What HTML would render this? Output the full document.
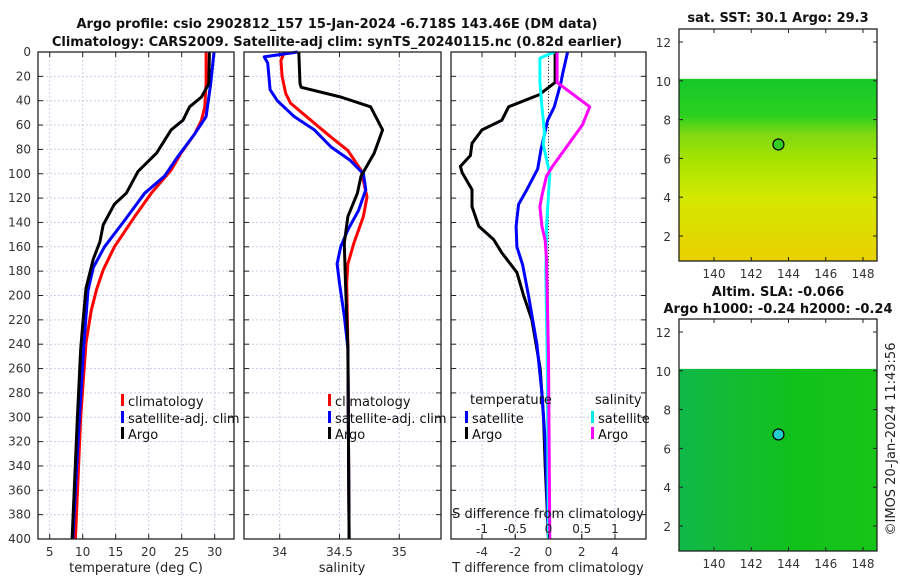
<!DOCTYPE html>
<html><head><meta charset="utf-8"><style>
html,body{margin:0;padding:0;background:#fff}
svg{display:block;font-family:"DejaVu Sans","Liberation Sans",sans-serif}
</style></head><body>
<svg id="c" width="900" height="580" viewBox="0 0 900 580" xmlns="http://www.w3.org/2000/svg">
<defs>
<linearGradient id="sstg" x1="0" y1="0" x2="0" y2="1">
<stop offset="0" stop-color="#14c82a"/><stop offset="0.2" stop-color="#2ad020"/><stop offset="0.3" stop-color="#7ed812"/>
<stop offset="0.45" stop-color="#a8e400"/><stop offset="0.65" stop-color="#d2e800"/><stop offset="1" stop-color="#ead000"/>
</linearGradient>
<linearGradient id="slag" x1="0" y1="0" x2="1" y2="0">
<stop offset="0" stop-color="#10b848"/><stop offset="0.3" stop-color="#12bc30"/><stop offset="0.6" stop-color="#10c21a"/><stop offset="1" stop-color="#18c418"/>
</linearGradient>
</defs>
<g id="root"></g>
</svg>
<script>
// ---------- data ----------
const depthTicks=[0,20,40,60,80,100,120,140,160,180,200,220,240,260,280,300,320,340,360,380,400];
const tempTicks=[5,10,15,20,25,30];
const salTicks=[34,34.5,35];
const tdiffTicks=[-4,-2,0,2,4];
const sdiffTicks=[-1,-0.5,0,0.5,1];
const latTicks=[2,4,6,8,10,12];
const lonTicks=[140,142,144,146,148];

const climTDepth=[0,26,45,56,67,83,97,116,135,160,179,195,212,239,300,400];
const climT=[28.7,28.7,28.5,28,27,24.9,23.4,20.4,17.9,14.8,13.1,12.1,11.3,10.5,9.7,8.9];
const satTDepth=[0,26,53,67,86,102,116,138,160,177,196,239,300,400];
const satT=[29.9,29.4,28.7,27,24.4,22.4,19.4,16.4,13.3,11.6,10.8,10.2,9.5,8.5];
const argoTDepth=[0,26,37,45,56,64,83,98,116,125,142,156,170,194,224,244,300,400];
const argoT=[29.2,29.1,28,26.2,25.2,23.4,21.2,18.4,16.6,14.8,13.1,12.6,11.6,10.5,10,9.7,9.2,8.4];

const climSDepth=[0,7,20,34,42,56,70,81,97,119,135,157,174,190,243,400];
const climS=[34.04,34.01,34.02,34.05,34.09,34.26,34.43,34.57,34.68,34.73,34.7,34.62,34.57,34.56,34.57,34.58];
const satSDepth=[0,4,9,20,31,40,53,64,78,89,100,113,130,146,160,174,190,217,243,400];
const satS=[34.15,33.87,33.9,33.91,33.92,33.98,34.12,34.29,34.43,34.59,34.7,34.72,34.66,34.57,34.51,34.48,34.5,34.54,34.57,34.58];
const argoSDepth=[0,26,29,37,45,64,83,102,116,135,157,190,243,400];
const argoS=[34.16,34.17,34.18,34.51,34.76,34.86,34.79,34.68,34.65,34.57,34.54,34.55,34.57,34.58];

const argoTdDepth=[0,25,35,45,56,64,75,85,94,99,113,127,143,154,165,181,200,220,260,300,340,400];
const argoTd=[0.4,0.4,-0.55,-2.4,-2.8,-4,-4.6,-4.7,-5.3,-5.2,-4.6,-4.6,-4.2,-3.3,-2.8,-1.9,-1.5,-1,-0.5,-0.3,-0.2,0];
const satTdDepth=[0,18,25,45,56,80,96,113,125,143,160,175,200,240,280,320,400];
const satTd=[1.15,0.85,0.75,0.35,-0.05,-0.45,-0.65,-1.3,-1.8,-1.95,-1.9,-1.55,-1.2,-0.7,-0.4,-0.2,0];
const satSdDepth=[0,5,25,45,66,76,100,143,181,250,400];
const satSd=[0.09,-0.13,-0.13,-0.1,-0.06,-0.08,0.02,-0.03,-0.04,-0.02,0];
const argoSdDepth=[0,25,45,60,69,94,102,118,127,143,155,170,250,400];
const argoSd=[0.13,0.13,0.62,0.51,0.39,0.06,-0.03,-0.1,-0.13,-0.1,-0.05,-0.03,0,0.02];

const argoLon=[143.46], argoLat=[6.718];

// ---------- helpers ----------
const NS='http://www.w3.org/2000/svg';
const root=document.getElementById('root');
function mk(tag,attrs,parent,text){const e=document.createElementNS(NS,tag);for(const k in attrs)e.setAttribute(k,attrs[k]);if(text!==undefined)e.textContent=text;(parent||root).appendChild(e);return e;}
const Y0=52,Y1=539;
const yD=d=>Y0+(d/400)*(Y1-Y0);
function lin(v0,p0,v1,p1){return v=>p0+(v-v0)*(p1-p0)/(v1-v0);}
const xT=lin(5,49.7,30,214.7);
const xS=lin(34,279.7,35,399.3);
const xTd=lin(0,548.5,4,615);
const xSd=lin(0,548.5,1,615);

function panel(name,x0,x1,xticks,xf,labelTicks){
  const g=mk('g',{});
  
  
  depthTicks.forEach(d=>{const l=mk('line',{x1:x0,x2:x1,y1:yD(d),y2:yD(d),stroke:'#c9cfe6','stroke-width':1,'stroke-dasharray':'2,2'},g);
    });
  xticks.forEach(v=>{const l=mk('line',{x1:xf(v),x2:xf(v),y1:Y0,y2:Y1,stroke:'#c9cfe6','stroke-width':1,'stroke-dasharray':'2,2'},g);
    });
  depthTicks.forEach(d=>{mk('line',{x1:x0,x2:x0+5,y1:yD(d),y2:yD(d),stroke:'#222'},g);mk('line',{x1:x1-5,x2:x1,y1:yD(d),y2:yD(d),stroke:'#222'},g);});
  xticks.forEach(v=>{mk('line',{x1:xf(v),x2:xf(v),y1:Y1-5,y2:Y1,stroke:'#222'},g);mk('line',{x1:xf(v),x2:xf(v),y1:Y0,y2:Y0+5,stroke:'#222'},g);});
  if(labelTicks){xticks.forEach(v=>{const t=mk('text',{x:xf(v),y:Y1+17,'font-size':12,'text-anchor':'middle',fill:'#333'},g,String(v));
    });}
  return g;
}
function frame(g,x0,x1){const r=mk('rect',{x:x0,y:Y0,width:x1-x0,height:Y1-Y0,fill:'none',stroke:'#222','stroke-width':1.3},g);
  }
function series(g,name,depths,vals,xf,color){
  const pts=depths.map((d,i)=>xf(vals[i]).toFixed(1)+','+yD(d).toFixed(1)).join(' ');
  const p=mk('polyline',{points:pts,fill:'none',stroke:color,'stroke-width':3,'stroke-linejoin':'round'},g);
  
  
}
function legend(g,name,x,y,color,label){
  const lg=mk('g',{},g);
  
  
  mk('rect',{x:x,y:y-10,width:3,height:12,fill:color},lg);
  mk('text',{x:x+7,y:y+2,'font-size':13,fill:'#111'},lg,label);
}

// ---------- titles ----------
let t=mk('text',{x:337,y:28,'font-size':13,'font-weight':'bold','text-anchor':'middle',fill:'#111'},root,'Argo profile: csio 2902812_157 15-Jan-2024 -6.718S 143.46E (DM data)');

t=mk('text',{x:337,y:46,'font-size':13,'font-weight':'bold','text-anchor':'middle',fill:'#111'},root,'Climatology: CARS2009. Satellite-adj clim: synTS_20240115.nc (0.82d earlier)');


// ---------- panel 1 ----------
const g1=panel('temperature-panel',38,234,tempTicks,xT,true);
depthTicks.forEach(d=>{const l=mk('text',{x:31,y:yD(d)+4,'font-size':12,'text-anchor':'end',fill:'#333'},g1,String(d));
  });
series(g1,'clim-temperature-line',climTDepth,climT,xT,'#ff0000');
series(g1,'sat-temperature-line',satTDepth,satT,xT,'#0000ff');
series(g1,'argo-temperature-line',argoTDepth,argoT,xT,'#000000');
frame(g1,38,234);
legend(g1,'legend-climatology',121,404,'#ff0000','climatology');
legend(g1,'legend-satellite',121,421,'#0000ff','satellite-adj. clim');
legend(g1,'legend-argo',121,437,'#000000','Argo');
t=mk('text',{x:136,y:572,'font-size':13,'text-anchor':'middle',fill:'#222'},g1,'temperature (deg C)');


// ---------- panel 2 ----------
const g2=panel('salinity-panel',244,441,salTicks,xS,true);
series(g2,'clim-salinity-line',climSDepth,climS,xS,'#ff0000');
series(g2,'sat-salinity-line',satSDepth,satS,xS,'#0000ff');
series(g2,'argo-salinity-line',argoSDepth,argoS,xS,'#000000');
frame(g2,244,441);
legend(g2,'legend-climatology-2',328,404,'#ff0000','climatology');
legend(g2,'legend-satellite-2',328,421,'#0000ff','satellite-adj. clim');
legend(g2,'legend-argo-2',328,437,'#000000','Argo');
t=mk('text',{x:342,y:572,'font-size':13,'text-anchor':'middle',fill:'#222'},g2,'salinity');


// ---------- panel 3 ----------
const g3=panel('difference-panel',451,646,tdiffTicks,xTd,true);
mk('line',{x1:xTd(0),x2:xTd(0),y1:Y0,y2:Y1,stroke:'#333','stroke-width':1,'stroke-dasharray':'1,2'},g3);
series(g3,'argo-tdiff-line',argoTdDepth,argoTd,xTd,'#000000');
series(g3,'sat-tdiff-line',satTdDepth,satTd,xTd,'#0000ff');
series(g3,'sat-sdiff-line',satSdDepth,satSd,xSd,'#00ffff');
series(g3,'argo-sdiff-line',argoSdDepth,argoSd,xSd,'#ff00ff');
frame(g3,451,646);
sdiffTicks.forEach(v=>{const l=mk('text',{x:xSd(v),y:533,'font-size':12,'text-anchor':'middle',fill:'#222'},g3,String(v));
  
  mk('line',{x1:xSd(v),x2:xSd(v),y1:Y1-5,y2:Y1-1,stroke:'#222'},g3);});
t=mk('text',{x:548,y:518,'font-size':13,'text-anchor':'middle',fill:'#111'},g3,'S difference from climatology');

t=mk('text',{x:470,y:404,'font-size':13,fill:'#111'},g3,'temperature');

t=mk('text',{x:595,y:404,'font-size':13,fill:'#111'},g3,'salinity');

legend(g3,'legend-t-satellite',465,421,'#0000ff','satellite');
legend(g3,'legend-t-argo',465,437,'#000000','Argo');
legend(g3,'legend-s-satellite',591,421,'#00e8e8','satellite');
legend(g3,'legend-s-argo',591,437,'#ff00ff','Argo');
t=mk('text',{x:548,y:572,'font-size':13,'text-anchor':'middle',fill:'#222'},g3,'T difference from climatology');


// ---------- maps ----------
const xLon=lin(140,714,148,863);
function map(name,top,fill,dotColor){
  const yLat=lin(12,top+13,2,top+207);
  const g=mk('g',{});
  
  
  const x0=679,x1=877,y0=top,y1=top+232;
  mk('rect',{x:x0,y:yLat(10.1),width:x1-x0,height:y1-yLat(10.1),fill:fill},g);
  latTicks.forEach(v=>{mk('line',{x1:x0,x2:x0+4,y1:yLat(v),y2:yLat(v),stroke:'#222'},g);mk('line',{x1:x1-4,x2:x1,y1:yLat(v),y2:yLat(v),stroke:'#222'},g);
    const l=mk('text',{x:x0-8,y:yLat(v)+5,'font-size':12,'text-anchor':'end',fill:'#333'},g,String(v));
    });
  lonTicks.forEach(v=>{mk('line',{x1:xLon(v),x2:xLon(v),y1:y1-4,y2:y1,stroke:'#222'},g);mk('line',{x1:xLon(v),x2:xLon(v),y1:y0,y2:y0+4,stroke:'#222'},g);
    const l=mk('text',{x:xLon(v),y:y1+17,'font-size':12,'text-anchor':'middle',fill:'#333'},g,String(v));
    });
  mk('rect',{x:x0,y:y0,width:x1-x0,height:y1-y0,fill:'none',stroke:'#222','stroke-width':1.3},g);
  const c=mk('circle',{cx:xLon(argoLon[0]),cy:yLat(argoLat[0]),r:5.5,fill:dotColor,stroke:'#000','stroke-width':1.2},g);
  
  return g;
}
map('sst-map',29,'url(#sstg)','#33cc22');
map('sla-map',319,'url(#slag)','#22cccc');
t=mk('text',{x:778,y:22,'font-size':13,'font-weight':'bold','text-anchor':'middle',fill:'#111'},root,'sat. SST: 30.1 Argo: 29.3');

t=mk('text',{x:778,y:296,'font-size':13,'font-weight':'bold','text-anchor':'middle',fill:'#111'},root,'Altim. SLA: -0.066');

t=mk('text',{x:778,y:313,'font-size':13,'font-weight':'bold','text-anchor':'middle',fill:'#111'},root,'Argo h1000: -0.24 h2000: -0.24');

t=mk('text',{x:0,y:0,'font-size':13,'text-anchor':'middle',fill:'#222',transform:'translate(895,439) rotate(-90)'},root,'©IMOS 20-Jan-2024 11:43:56');

</script>
</body></html>
